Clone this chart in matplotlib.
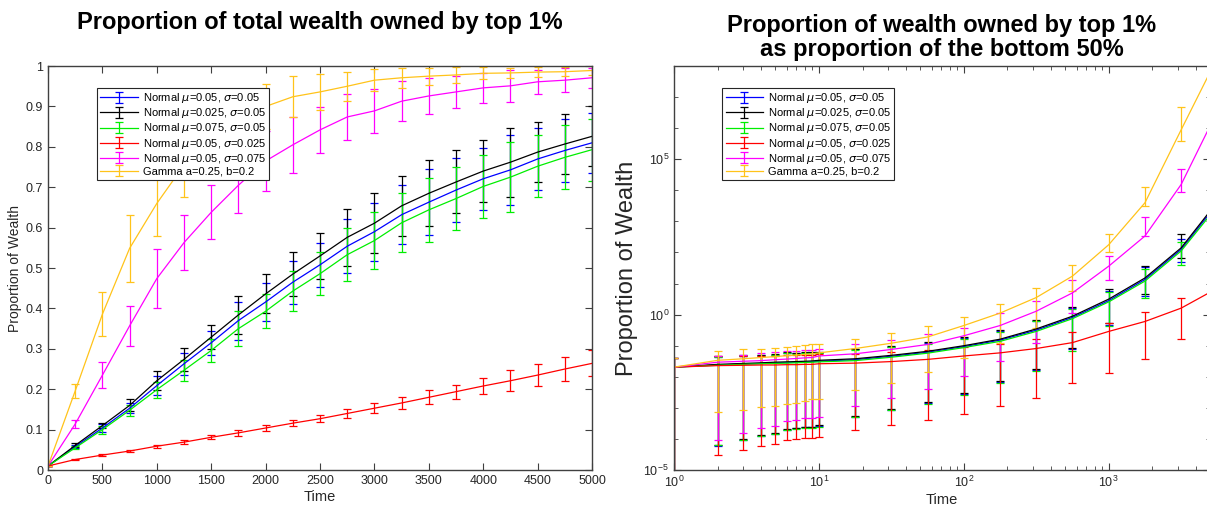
import numpy as np
import matplotlib
matplotlib.use("Agg")
import matplotlib.pyplot as plt
from matplotlib.ticker import FixedLocator, FuncFormatter, LogLocator, NullFormatter, MultipleLocator

plt.rcParams['font.family'] = ['Liberation Sans', 'DejaVu Sans']
plt.rcParams['mathtext.fontset'] = 'dejavusans'

labels = ['Normal $\\mu$=0.05, $\\sigma$=0.05',
          'Normal $\\mu$=0.025, $\\sigma$=0.05',
          'Normal $\\mu$=0.075, $\\sigma$=0.05',
          'Normal $\\mu$=0.05, $\\sigma$=0.025',
          'Normal $\\mu$=0.05, $\\sigma$=0.075',
          'Gamma a=0.25, b=0.2']
colors = ['#0000ff', '#000000', '#00ee00', '#ff0000', '#ff00ff', '#ffc31a']

# ---- left: share of total wealth held by top 1% ----
time_lin = [0, 250, 500, 750, 1000, 1250, 1500, 1750, 2000, 2250, 2500,
            2750, 3000, 3250, 3500, 3750, 4000, 4250, 4500, 4750, 5000]

mean_blue = [0.01, 0.058, 0.104, 0.153, 0.209, 0.263, 0.315, 0.37, 0.416, 0.465, 0.508,
             0.554, 0.59, 0.632, 0.663, 0.693, 0.721, 0.743, 0.77, 0.791, 0.81]
std_blue = [0, 0.004, 0.01, 0.013, 0.023, 0.027, 0.03, 0.047, 0.046, 0.053, 0.055,
            0.067, 0.072, 0.073, 0.082, 0.079, 0.077, 0.086, 0.076, 0.077, 0.075]
mean_black = [0.01, 0.061, 0.11, 0.16, 0.221, 0.274, 0.329, 0.384, 0.436, 0.485, 0.53,
              0.576, 0.611, 0.654, 0.685, 0.713, 0.74, 0.762, 0.787, 0.807, 0.826]
std_black = [0, 0.005, 0.007, 0.015, 0.024, 0.029, 0.03, 0.048, 0.048, 0.055, 0.056,
             0.07, 0.074, 0.074, 0.082, 0.078, 0.076, 0.085, 0.075, 0.075, 0.074]
mean_green = [0.01, 0.055, 0.1, 0.148, 0.199, 0.247, 0.296, 0.35, 0.393, 0.443, 0.486,
              0.533, 0.568, 0.612, 0.644, 0.672, 0.702, 0.725, 0.752, 0.774, 0.793]
std_green = [0, 0.004, 0.01, 0.014, 0.02, 0.026, 0.028, 0.043, 0.042, 0.05, 0.053,
             0.066, 0.07, 0.073, 0.08, 0.078, 0.077, 0.087, 0.077, 0.079, 0.077]
mean_red = [0.01, 0.026, 0.037, 0.047, 0.059, 0.069, 0.081, 0.092, 0.104, 0.116, 0.127,
            0.14, 0.153, 0.166, 0.18, 0.194, 0.208, 0.221, 0.235, 0.25, 0.264]
std_red = [0, 0.002, 0.003, 0.003, 0.004, 0.005, 0.005, 0.007, 0.007, 0.008, 0.009,
           0.012, 0.013, 0.014, 0.017, 0.017, 0.021, 0.026, 0.027, 0.03, 0.032]
mean_magenta = [0.01, 0.114, 0.235, 0.357, 0.474, 0.563, 0.638, 0.705, 0.765, 0.805, 0.842,
                0.874, 0.889, 0.913, 0.926, 0.936, 0.946, 0.951, 0.961, 0.965, 0.971]
std_magenta = [0, 0.009, 0.033, 0.05, 0.074, 0.068, 0.067, 0.07, 0.075, 0.07, 0.057,
               0.057, 0.055, 0.049, 0.045, 0.04, 0.037, 0.039, 0.03, 0.029, 0.025]
mean_gamma = [0.01, 0.196, 0.386, 0.549, 0.66, 0.755, 0.815, 0.862, 0.9, 0.924, 0.936,
              0.95, 0.965, 0.971, 0.975, 0.978, 0.982, 0.983, 0.985, 0.986, 0.989]
std_gamma = [0, 0.018, 0.055, 0.083, 0.08, 0.078, 0.07, 0.062, 0.055, 0.051, 0.045,
             0.036, 0.027, 0.025, 0.021, 0.019, 0.015, 0.012, 0.012, 0.011, 0.01]

# ---- right: top 1% / bottom 50% ratio, log10 values ----
time_log = [1, 2, 3, 4, 5, 6, 7, 8, 9, 10, 17.8, 31.6, 56.2, 100, 178, 316, 562,
            1000, 1778, 3162, 5000]

line_blue = [-1.69, -1.62, -1.59, -1.57, -1.55, -1.54, -1.53, -1.52, -1.51, -1.50, -1.45,
             -1.34, -1.21, -1.03, -0.82, -0.50, -0.09, 0.45, 1.13, 2.10, 3.27]
lo_blue = [-9, -4.22, -4.02, -3.9, -3.84, -3.7, -3.66, -3.62, -3.62, -3.57, -3.28,
           -3.06, -2.85, -2.56, -2.17, -1.79, -1.12, -0.32, 0.6, 1.7]
hi_blue = [-1.4, -1.35, -1.33, -1.31, -1.29, -1.23, -1.25, -1.23, -1.23, -1.23, -1.12,
           -1.03, -0.9, -0.74, -0.52, -0.19, 0.21, 0.77, 1.52, 2.42]

line_black = [-1.69, -1.60, -1.57, -1.55, -1.53, -1.52, -1.51, -1.50, -1.49, -1.47, -1.42,
              -1.31, -1.18, -1.0, -0.79, -0.46, -0.05, 0.5, 1.18, 2.15, 3.33]
lo_black = [-9, -4.2, -4.0, -3.88, -3.82, -3.68, -3.64, -3.6, -3.6, -3.55, -3.25,
            -3.03, -2.82, -2.53, -2.13, -1.75, -1.07, -0.27, 0.65, 1.83]
hi_black = [-1.4, -1.33, -1.31, -1.29, -1.27, -1.2, -1.22, -1.2, -1.2, -1.2, -1.09,
            -1.0, -0.87, -0.71, -0.49, -0.16, 0.24, 0.81, 1.56, 2.58]

line_green = [-1.69, -1.63, -1.60, -1.58, -1.57, -1.56, -1.55, -1.54, -1.53, -1.52, -1.48,
              -1.37, -1.24, -1.06, -0.86, -0.54, -0.13, 0.41, 1.08, 2.05, 3.2]
lo_green = [-9, -4.2, -4.02, -3.9, -3.84, -3.72, -3.68, -3.65, -3.64, -3.6, -3.3,
            -3.08, -2.88, -2.6, -2.2, -1.82, -1.16, -0.38, 0.55, 1.59]
hi_green = [-1.4, -1.36, -1.34, -1.32, -1.3, -1.25, -1.27, -1.25, -1.25, -1.25, -1.14,
            -1.05, -0.93, -0.77, -0.55, -0.22, 0.18, 0.72, 1.46, 2.33]

line_red = [-1.69, -1.64, -1.63, -1.62, -1.62, -1.61, -1.61, -1.60, -1.60, -1.58, -1.56,
            -1.51, -1.44, -1.33, -1.23, -1.09, -0.9, -0.54, -0.22, 0.21, 0.72]
lo_red = [-9, -4.51, -4.35, -4.22, -4.17, -4.04, -4.0, -3.98, -3.98, -3.93, -3.71,
          -3.55, -3.38, -3.2, -2.93, -2.69, -2.2, -1.87, -1.42, -0.78]
hi_red = [-1.4, -1.34, -1.33, -1.32, -1.32, -1.31, -1.31, -1.3, -1.3, -1.28, -1.26,
          -1.21, -1.14, -1.03, -0.93, -0.79, -0.55, -0.27, 0.07, 0.54]

line_magenta = [-1.69, -1.53, -1.50, -1.48, -1.45, -1.43, -1.41, -1.39, -1.38, -1.33, -1.26,
                -1.12, -0.96, -0.68, -0.35, 0.11, 0.7, 1.56, 2.53, 4.19, 6.07]
lo_magenta = [-9, -4.02, -3.8, -3.66, -3.58, -3.42, -3.38, -3.33, -3.31, -3.28, -2.95,
              -2.67, -2.38, -1.99, -1.5, -0.9, 0.05, 1.11, 2.53, 3.96]
hi_magenta = [-1.4, -1.33, -1.3, -1.23, -1.2, -1.18, -1.18, -1.15, -1.13, -1.11, -0.96,
              -0.82, -0.63, -0.44, 0.05, 0.44, 1.11, 1.9, 3.14, 4.68]

line_gamma = [-1.69, -1.47, -1.42, -1.38, -1.35, -1.32, -1.30, -1.28, -1.26, -1.23, -1.09,
              -0.92, -0.72, -0.35, 0.05, 0.55, 1.24, 2.25, 3.6, 5.95, 7.8]
lo_gamma = [-9, -3.13, -3.06, -2.98, -2.95, -2.87, -2.84, -2.78, -2.73, -2.73, -2.42,
            -2.2, -1.86, -1.4, -0.9, -0.44, 0.75, 2.01, 3.49, 5.6]
hi_gamma = [-1.4, -1.18, -1.12, -1.09, -1.06, -1.04, -1.01, -0.98, -0.96, -0.93, -0.79,
            -0.6, -0.38, -0.06, 0.33, 0.87, 1.61, 2.61, 4.12, 6.69]

left_means = [mean_blue, mean_black, mean_green, mean_red, mean_magenta, mean_gamma]
left_stds = [std_blue, std_black, std_green, std_red, std_magenta, std_gamma]
right_lines = [line_blue, line_black, line_green, line_red, line_magenta, line_gamma]
right_lo = [lo_blue, lo_black, lo_green, lo_red, lo_magenta, lo_gamma]
right_hi = [hi_blue, hi_black, hi_green, hi_red, hi_magenta, hi_gamma]

fig = plt.figure(figsize=(12.07, 5.12), dpi=100)
ax1 = fig.add_axes([0.0398, 0.082, 0.4507, 0.789])
ax2 = fig.add_axes([0.5584, 0.082, 0.4441, 0.789])

spine_col = '#404040'
lw = 0.9

for i in range(6):
    ax1.errorbar(time_lin, left_means[i], yerr=left_stds[i], color=colors[i], lw=lw,
                 elinewidth=lw, capsize=3.2, capthick=lw, label=labels[i])

mask = [True] * 20 + [False]
for i in range(6):
    m = 10 ** np.array(right_lines[i])
    lo = 10 ** np.array(right_lo[i] + [right_lines[i][-1]])
    hi = 10 ** np.array(right_hi[i] + [right_lines[i][-1]])
    ax2.errorbar(time_log, m, yerr=[m - lo, hi - m], color=colors[i], lw=lw,
                 elinewidth=lw, capsize=3.2, capthick=lw, errorevery=mask, label=labels[i])

# left axes
ax1.set_xlim(0, 5000)
ax1.set_ylim(0, 1)
ax1.xaxis.set_major_locator(MultipleLocator(500))
ax1.yaxis.set_major_locator(MultipleLocator(0.1))
ax1.yaxis.set_major_formatter(FuncFormatter(lambda v, p: '%g' % round(v, 2)))
ax1.set_xlabel('Time', fontsize=10.5, labelpad=2)
ax1.set_ylabel('Proportion of Wealth', fontsize=10, labelpad=3)
ax1.set_title('Proportion of total wealth owned by top 1%', fontsize=17,
              fontweight='bold', pad=27)

# right axes
ax2.set_xscale('log')
ax2.set_yscale('log')
ax2.set_xlim(1, 5000)
ax2.set_ylim(1e-5, 1e8)
ax2.yaxis.set_major_locator(FixedLocator([1e-5, 1e0, 1e5]))
ax2.yaxis.set_minor_locator(FixedLocator([10.0 ** k for k in range(-5, 9)]))
ax2.yaxis.set_minor_formatter(NullFormatter())
ax2.xaxis.set_major_locator(FixedLocator([1, 10, 100, 1000]))
ax2.xaxis.set_minor_locator(LogLocator(base=10, subs=np.arange(2, 10), numticks=20))
ax2.xaxis.set_minor_formatter(NullFormatter())
ax2.set_xlabel('Time', fontsize=10.5, labelpad=2)
ax2.set_ylabel('Proportion of Wealth', fontsize=17, labelpad=4)
ax2.set_title('Proportion of wealth owned by top 1%\nas proportion of the bottom 50%',
              fontsize=17, fontweight='bold', pad=7, linespacing=1.1)

for ax in (ax1, ax2):
    for s in ax.spines.values():
        s.set_color(spine_col)
        s.set_linewidth(1.0)
    ax.tick_params(which='both', direction='in', top=True, right=True,
                   color=spine_col, labelcolor='#262626', labelsize=9)
    ax.tick_params(which='major', length=5)
    ax.tick_params(which='minor', length=3)
    ax.xaxis.label.set_color('#262626')
    ax.yaxis.label.set_color('#262626')
    leg = ax.legend(loc='upper left', bbox_to_anchor=(0.09, 0.946), borderaxespad=0,
                    fontsize=8, fancybox=False, framealpha=1, edgecolor='#262626',
                    handlelength=3.4, labelspacing=0.1, borderpad=0.3, handletextpad=0.4)
    leg.get_frame().set_linewidth(0.8)

fig.savefig('out.png', dpi=100)
